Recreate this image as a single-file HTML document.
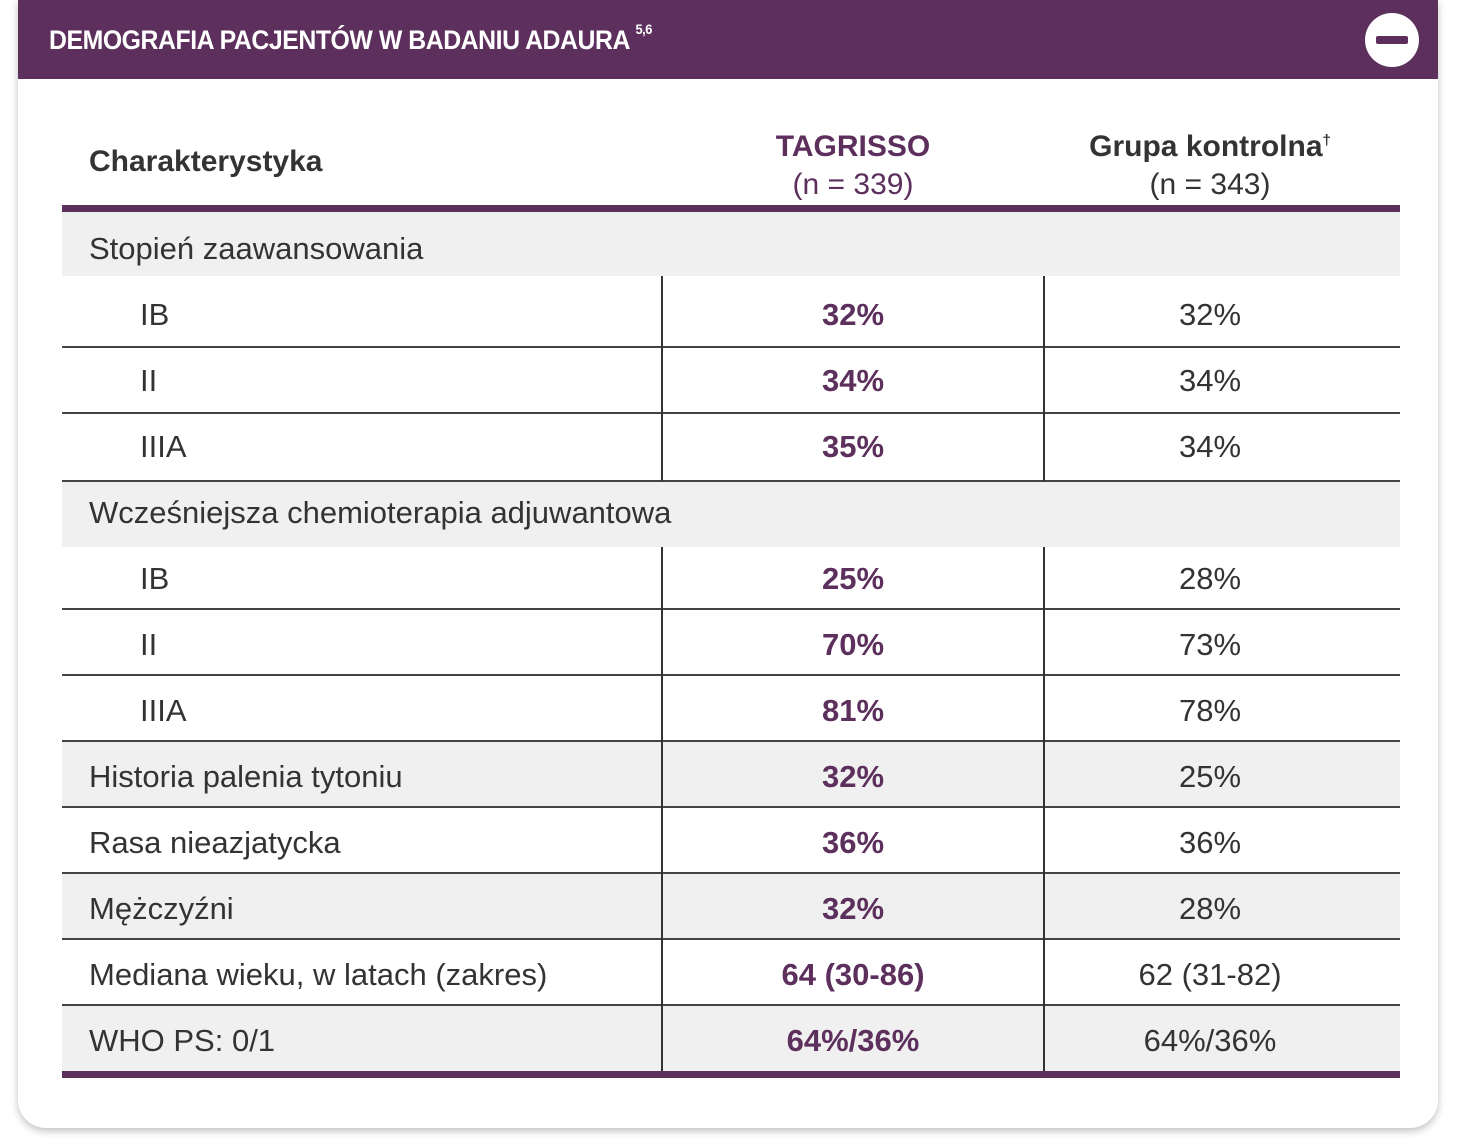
<!DOCTYPE html>
<html><head><meta charset="utf-8"><style>
*{margin:0;padding:0;box-sizing:border-box}
body{width:1458px;height:1147px;background:#fff;position:relative;overflow:hidden;font-family:"Liberation Sans Narrow","Liberation Sans",sans-serif;color:#333}
.card{position:absolute;left:18px;top:0;width:1420px;height:1128px;background:#fff;border-radius:0 0 28px 28px;box-shadow:0 3px 8px rgba(0,0,0,.25)}
.hdr{position:absolute;left:18px;top:0;width:1420px;height:79px;background:#5c2f5c}
.ttl{position:absolute;left:49px;top:25px;color:#fff;font-weight:bold;font-size:27px;letter-spacing:-0.5px;white-space:nowrap;transform:scaleX(0.92);transform-origin:left top}
.ttl sup{font-size:14px;vertical-align:top;position:relative;top:4px;line-height:0}
.ic{position:absolute;left:1365px;top:13px;width:54px;height:54px;border-radius:50%;background:#fff}
.ic:after{content:"";position:absolute;left:11px;top:23px;width:32px;height:8px;background:#5c2f5c;border-radius:2px}
.r{position:absolute;left:62px;width:1338px}
.g{background:#f0f0f0}
.line{position:absolute;left:62px;width:1338px;height:2px;background:#444}
.pb{position:absolute;left:62px;width:1338px;height:7px;background:#5c2f5c}
.v{position:absolute;width:2px;background:#333}
.t{position:absolute;font-size:31px;white-space:nowrap;line-height:1}
.c1{left:853px;transform:translateX(-50%);color:#5c2f5c}
.c2{left:1210px;transform:translateX(-50%);color:#333}
.b{font-weight:bold}
sup{line-height:0}
</style></head><body>
<div class="card"></div>
<div class="hdr"></div>
<div class="ttl">DEMOGRAFIA PACJENTÓW W BADANIU ADAURA <sup>5,6</sup></div>
<div class="ic"></div>

<div class="t b" style="left:89px;top:147px;font-size:30px">Charakterystyka</div>
<div class="t b c1" style="top:128px;font-size:30px;text-align:center;line-height:38px">TAGRISSO<br><span style="font-weight:normal">(n = 339)</span></div>
<div class="t b c2" style="top:128px;font-size:30px;text-align:center;line-height:38px">Grupa kontrolna<sup style="font-size:15px">†</sup><br><span style="font-weight:normal">(n = 343)</span></div>

<div class="r g" style="top:211px;height:65px"></div>
<div class="r g" style="top:481px;height:66px"></div>
<div class="r g" style="top:741px;height:66px"></div>
<div class="r g" style="top:873px;height:66px"></div>
<div class="r g" style="top:1005px;height:66px"></div>

<div class="pb" style="top:205px"></div>
<div class="line" style="top:346px"></div>
<div class="line" style="top:412px"></div>
<div class="line" style="top:480px"></div>
<div class="line" style="top:608px"></div>
<div class="line" style="top:674px"></div>
<div class="line" style="top:740px"></div>
<div class="line" style="top:806px"></div>
<div class="line" style="top:872px"></div>
<div class="line" style="top:938px"></div>
<div class="line" style="top:1004px"></div>
<div class="pb" style="top:1071px"></div>

<div class="v" style="left:661px;top:276px;height:205px"></div>
<div class="v" style="left:1043px;top:276px;height:205px"></div>
<div class="v" style="left:661px;top:547px;height:524px"></div>
<div class="v" style="left:1043px;top:547px;height:524px"></div>

<div class="t" style="left:89px;top:233px">Stopień zaawansowania</div>
<div class="t" style="left:140px;top:299px">IB</div><div class="t c1 b" style="top:299px">32%</div><div class="t c2" style="top:299px">32%</div>
<div class="t" style="left:140px;top:365px">II</div><div class="t c1 b" style="top:365px">34%</div><div class="t c2" style="top:365px">34%</div>
<div class="t" style="left:140px;top:431px">IIIA</div><div class="t c1 b" style="top:431px">35%</div><div class="t c2" style="top:431px">34%</div>
<div class="t" style="left:89px;top:497px">Wcześniejsza chemioterapia adjuwantowa</div>
<div class="t" style="left:140px;top:563px">IB</div><div class="t c1 b" style="top:563px">25%</div><div class="t c2" style="top:563px">28%</div>
<div class="t" style="left:140px;top:629px">II</div><div class="t c1 b" style="top:629px">70%</div><div class="t c2" style="top:629px">73%</div>
<div class="t" style="left:140px;top:695px">IIIA</div><div class="t c1 b" style="top:695px">81%</div><div class="t c2" style="top:695px">78%</div>
<div class="t" style="left:89px;top:761px">Historia palenia tytoniu</div><div class="t c1 b" style="top:761px">32%</div><div class="t c2" style="top:761px">25%</div>
<div class="t" style="left:89px;top:827px">Rasa nieazjatycka</div><div class="t c1 b" style="top:827px">36%</div><div class="t c2" style="top:827px">36%</div>
<div class="t" style="left:89px;top:893px">Mężczyźni</div><div class="t c1 b" style="top:893px">32%</div><div class="t c2" style="top:893px">28%</div>
<div class="t" style="left:89px;top:959px">Mediana wieku, w latach (zakres)</div><div class="t c1 b" style="top:959px">64 (30-86)</div><div class="t c2" style="top:959px">62 (31-82)</div>
<div class="t" style="left:89px;top:1025px">WHO PS: 0/1</div><div class="t c1 b" style="top:1025px">64%/36%</div><div class="t c2" style="top:1025px">64%/36%</div>
</body></html>
